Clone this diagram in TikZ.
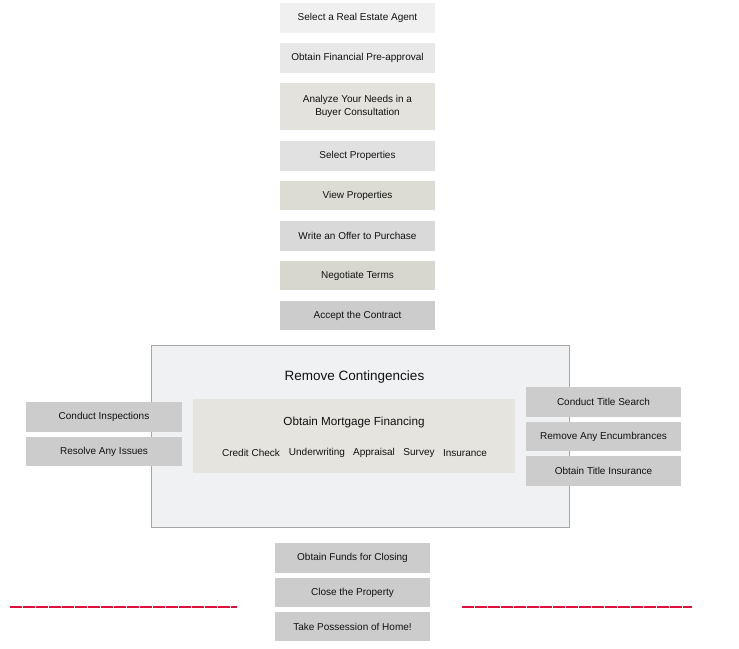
\documentclass[tikz,border=0pt]{standalone}
\usepackage{fontspec}
\setmainfont{Liberation Sans}
\usepackage{xcolor}
\definecolor{boxa}{HTML}{F0F0F0}
\definecolor{boxb}{HTML}{E8E8E8}
\definecolor{boxc}{HTML}{E3E2DC}
\definecolor{boxd}{HTML}{E1E1E1}
\definecolor{boxe}{HTML}{DCDCD4}
\definecolor{boxf}{HTML}{D9D9D9}
\definecolor{boxg}{HTML}{D7D7CF}
\definecolor{boxh}{HTML}{CCCCCC}
\definecolor{outerfill}{HTML}{F0F1F2}
\definecolor{outerline}{HTML}{A6A6A6}
\definecolor{innerfill}{HTML}{E5E4DF}
\definecolor{cutred}{HTML}{E0103A}
\definecolor{txt}{HTML}{111111}
\tikzset{stepbox/.style={rectangle,inner sep=0pt,minimum width=155pt,minimum height=29.5pt,
  text=txt,font=\fontsize{10}{13.5}\selectfont,align=center}}
\tikzset{sidebox/.append style={stepbox,fill=boxh,minimum width=156pt}}
\begin{document}
\begin{tikzpicture}
                [x=1pt,y=-1pt]
                \useasboundingbox (0,0) rectangle (739,648);
                % contingencies block
                \node [rectangle,draw=outerline,fill=outerfill,minimum width=418pt,minimum height=182pt,inner sep=0pt] (rc) at (360,436.5) {};
                \node [text=txt,font=\fontsize{13.5}{16}\selectfont] (rct) at (354.5,377.5) {Remove Contingencies};
                \node [rectangle,fill=innerfill,minimum width=322pt,minimum height=74pt,inner sep=0pt] (mf) at (354,436) {};
                \node [text=txt,font=\fontsize{11.7}{14}\selectfont] (mft) at (354,422.5) {Obtain Mortgage Financing};
                \foreach \name/\x/\label in {cc/251/Credit Check,uw/317/Underwriting,ap/374/Appraisal,sv/419/Survey,in/465/Insurance}
                \node [text=txt,font=\fontsize{10}{12}\selectfont] (\name) at (\x,453) {\label};
                
                \node [stepbox,fill=boxa] (s1) at (357.5,18) {Select a Real Estate Agent};
                \node [stepbox,fill=boxb] (s2) at (357.5,58) {Obtain Financial Pre-approval};
                \node [stepbox,fill=boxc,minimum height=47pt] (s3) at (357.5,106.5) {Analyze Your Needs in a\\Buyer Consultation};
                \node [stepbox,fill=boxd] (s4) at (357.5,156) {Select Properties};
                \node [stepbox,fill=boxe] (s5) at (357.5,195.5) {View Properties};
                \node [stepbox,fill=boxf] (s6) at (357.5,236) {Write an Offer to Purchase};
                \node [stepbox,fill=boxg] (s7) at (357.5,275.5) {Negotiate Terms};
                \node [stepbox,fill=boxh] (s8) at (357.5,315.5) {Accept the Contract};
                
                \node [sidebox] (l1) at (104,417) {Conduct Inspections};
                \node [sidebox] (l2) at (104,451.5) {Resolve Any Issues};
                
                \node [sidebox,minimum width=155pt] (r1) at (603.5,402) {Conduct Title Search};
                \node [sidebox,minimum width=155pt] (r2) at (603.5,436.5) {Remove Any Encumbrances};
                \node [sidebox,minimum width=155pt] (r3) at (603.5,471) {Obtain Title Insurance};
                
                \node [stepbox,fill=boxh] (b1) at (352.5,558) {Obtain Funds for Closing};
                \node [stepbox,fill=boxh] (b2) at (352.5,592.5) {Close the Property};
                \node [stepbox,fill=boxh] (b3) at (352.5,626.5) {Take Possession of Home!};
                
                % red cut lines
                \coordinate (la) at (10,607);
                \coordinate (lb) at (237,607);
                \coordinate (ra) at (462,607);
                \coordinate (rb) at (692,607);
                \foreach \from/\to in {la/lb,ra/rb}
                \draw [cutred,line width=2pt,dash pattern=on 12pt off 1pt] (\from) -- (\to);
            \end{tikzpicture}
\end{document}
